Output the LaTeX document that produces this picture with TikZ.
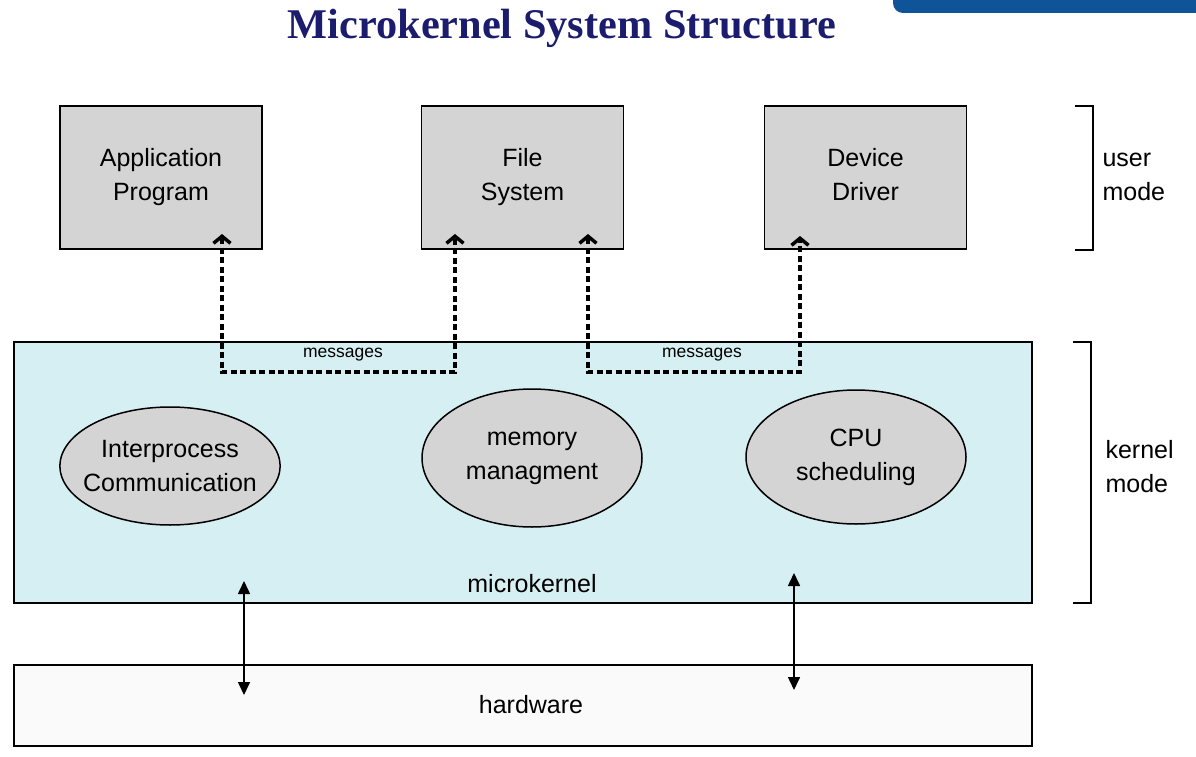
\documentclass[tikz,border=0pt]{standalone}
\usepackage{fontspec}
\setmainfont{Liberation Sans}
\newfontfamily\titlefont{Liberation Serif}
\usetikzlibrary{positioning}
\usetikzlibrary{shapes.geometric}
\usetikzlibrary{arrows.meta}
\definecolor{boxgray}{HTML}{D4D4D4}
\definecolor{kerncyan}{HTML}{D6EFF3}
\definecolor{hwwhite}{HTML}{FAFAFA}
\definecolor{titleblue}{HTML}{1C1C6E}
\definecolor{tabblue}{HTML}{0F5499}
\tikzset{userbox/.style={draw, fill=boxgray, line width=1.8pt, minimum width=202pt, minimum height=143pt,
  align=center, font=\fontsize{25}{34}\selectfont}}
\tikzset{srv/.style={draw, ellipse, fill=boxgray, line width=1.5pt, minimum width=220pt, minimum height=118pt,
  align=center, inner sep=0pt, font=\fontsize{25}{34}\selectfont}}
\tikzset{layer/.style={draw, line width=1.8pt, minimum width=1018pt, inner sep=0pt}}
\tikzset{msg/.style={line width=3.2pt, dash pattern=on 6pt off 3.5pt, {Straight Barb[length=7pt,width=17pt,line width=3.5pt]}-{Straight Barb[length=7pt,width=17pt,line width=3.5pt]}}}
\tikzset{hw/.style={line width=1.6pt, {Triangle[length=13pt,width=12pt]}-{Triangle[length=13pt,width=12pt]}}}
\tikzset{lbl/.style={font=\fontsize{25}{34}\selectfont, align=left}}

\begin{document}
\begin{tikzpicture}[x=1pt, y=-1pt]
\useasboundingbox (0,0) rectangle (1196,757);

% title and tab
\fill[tabblue, rounded corners=10pt] (893,-20) -- (893,13) -- (1216,13) -- (1216,-20) -- cycle;
\node[font=\titlefont\bfseries\fontsize{42.3}{46}\selectfont, text=titleblue] (title) at (562,28) {Microkernel System Structure};

% user mode
\node[userbox] (app) at (161,177.5) {Application\\Program};
\node[userbox] (fs) at (522.5,177.5) {File\\System};
\node[userbox] (dd) at (865.5,177.5) {Device\\Driver\vphantom{g}};

% kernel
\node[layer, fill=kerncyan, minimum height=261pt] (kern) at (523,472.5) {};
\node[srv, inner xsep=-9pt] (ipc) at (170,466) {Interprocess\\Communication};
\node[srv, minimum height=138pt] (mem) at (532,458) {memory\\managment};
\node[srv, minimum height=134pt] (cpu) at (856,457) {CPU\\scheduling};
\node[font=\fontsize{25}{28}\selectfont] (mk) at (532,584) {microkernel};

% hardware
\node[layer, fill=hwwhite, minimum height=81pt] (hw) at (523,705.5) {};
\node[font=\fontsize{25}{28}\selectfont] (hwt) at (531,705) {hardware};

% messages
\coordinate (a1) at (222,234);
\coordinate (a2) at (455,234);
\coordinate (a3) at (588,234);
\coordinate (a4) at (800,236);
\draw[msg] (a1) -- (a1 |- 0,372) -- (a2 |- 0,372) -- (a2);
\draw[msg] (a3) -- (a3 |- 0,372) -- (a4 |- 0,372) -- (a4);
\node[font=\fontsize{17.5}{20}\selectfont] (m1) at (343,355) {messages};
\node[font=\fontsize{17.5}{20}\selectfont] (m2) at (702,355) {messages};

% kernel <-> hardware
\coordinate (h1) at (244,581);
\coordinate (h2) at (244,695);
\coordinate (h3) at (794,573);
\coordinate (h4) at (794,690);
\draw[hw] (h1) -- (h2);
\draw[hw] (h3) -- (h4);

% modes
\draw[line width=2.4pt] (1075,106) -- (1093,106) -- (1093,250) -- (1075,250);
\draw[line width=2.4pt] (1073,342) -- (1091,342) -- (1091,603) -- (1073,603);
\node[lbl, anchor=west] (um) at (1099,177) {user\\mode};
\node[lbl, anchor=west] (km) at (1102,467) {kernel\\mode};
\end{tikzpicture}
\end{document}
